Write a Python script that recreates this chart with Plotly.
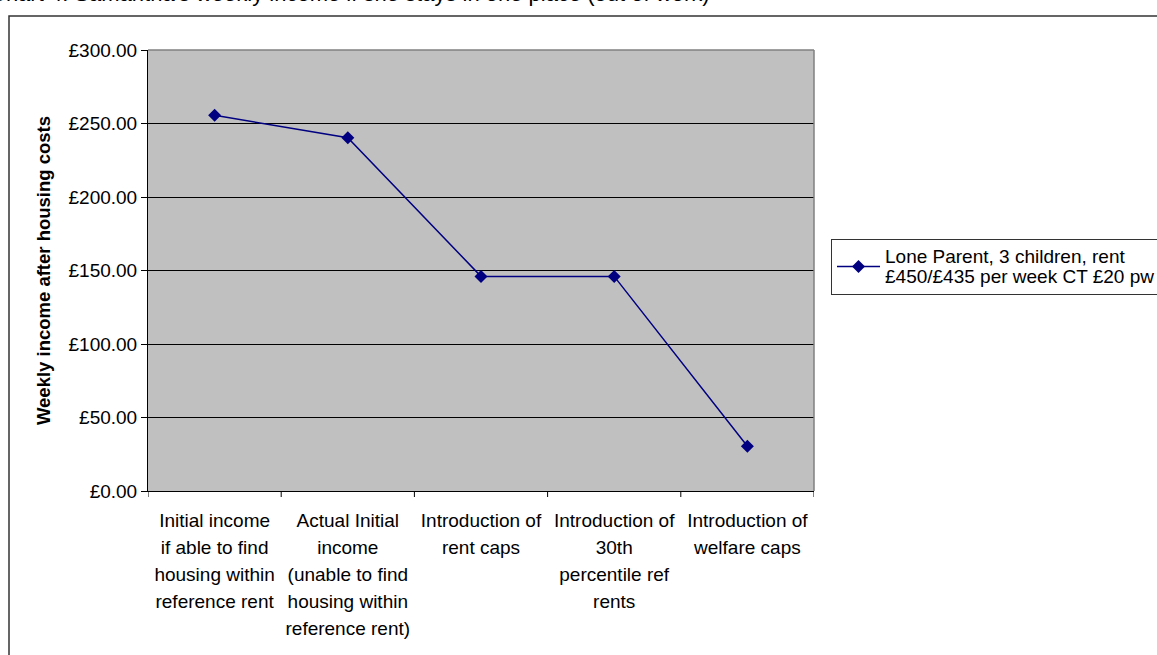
import plotly.graph_objects as go

# Scenario steps along the x axis and weekly income after housing costs (GBP)
category_lines = [
    ["Initial income", "if able to find", "housing within", "reference rent"],
    ["Actual Initial", "income", "(unable to find", "housing within", "reference rent)"],
    ["Introduction of", "rent caps"],
    ["Introduction of", "30th", "percentile ref", "rents"],
    ["Introduction of", "welfare caps"],
]
income = [255.6, 240.3, 146.0, 146.0, 30.5]
series_lines = ["Lone Parent, 3 children, rent", "£450/£435 per week CT £20 pw"]
chart_title = "Chart 4: Samantha's weekly income if she stays in one place (out of work)"
y_ticks = [0, 50, 100, 150, 200, 250, 300]

W, H = 1157, 655
L, R, T, B = 148, 814, 50, 491  # plot area edges in px
pw, ph = R - L, B - T


def px_x(x):
    return (x - L) / pw


def px_y(y):
    return (B - y) / ph


def sized(lines, size):
    # wrap each line so glyph size and line pitch can differ
    return "<br>".join(f"<span style='font-size:{size}px'>{s}</span>" for s in lines)


FONT = "Liberation Sans, Arial, sans-serif"

fig = go.Figure()
fig.add_trace(go.Scatter(
    x=list(range(len(category_lines))),
    y=income,
    mode="lines+markers",
    name=sized(series_lines, 19),
    line=dict(color="#000080", width=1.5),
    marker=dict(symbol="diamond", size=10, color="#000080"),
    showlegend=True,
))

fig.update_layout(
    width=W, height=H,
    margin=dict(l=L, r=W - R, t=T, b=H - B, pad=0, autoexpand=False),
    paper_bgcolor="#FFFFFF",
    plot_bgcolor="#C0C0C0",
    font=dict(family=FONT, color="#000000"),
    xaxis=dict(
        range=[-0.5, len(category_lines) - 0.5],
        tickmode="array",
        tickvals=list(range(len(category_lines))),
        ticktext=[sized(c, 19) for c in category_lines],
        showgrid=False,
        zeroline=False,
        showline=True, linecolor="#000000", linewidth=1,
        ticks="", ticklabelstandoff=10,
        tickfont=dict(family=FONT, size=20.8, color="#000000"),
        automargin=False,
        fixedrange=True,
    ),
    yaxis=dict(
        range=[0, 300],
        tickmode="array",
        tickvals=y_ticks,
        ticktext=[f"£{v:.2f}" for v in y_ticks],
        showgrid=True, gridcolor="#000000", gridwidth=1,
        zeroline=False,
        showline=True, linecolor="#000000", linewidth=1,
        ticks="outside", ticklen=6, tickcolor="#000000",
        tickfont=dict(family=FONT, size=19, color="#000000"),
        automargin=False,
        title=dict(text="<b>Weekly income after housing costs</b>",
                   font=dict(family=FONT, size=18.5, color="#000000"),
                   standoff=13),
    ),
    legend=dict(
        x=px_x(831), y=px_y(239), xanchor="left", yanchor="top",
        bgcolor="#FFFFFF", bordercolor="#333333", borderwidth=1,
        font=dict(family=FONT, size=15.4, color="#000000"),
        itemwidth=43,
    ),
    showlegend=True,
)

# Category boundary tick marks below the x axis
for k in range(len(category_lines) + 1):
    fig.add_shape(type="line", xref="x", yref="paper",
                  x0=k - 0.5, x1=k - 0.5, y0=0, y1=-6 / ph,
                  line=dict(color="#000000", width=1))

# Grey border on the top and right of the plot area
fig.add_shape(type="line", xref="paper", yref="paper", x0=0, x1=1, y0=1, y1=1,
              line=dict(color="#808080", width=1.5))
fig.add_shape(type="line", xref="paper", yref="paper", x0=1, x1=1, y0=0, y1=1,
              line=dict(color="#808080", width=1.5))

# Outer chart frame
fig.add_shape(type="rect", xref="paper", yref="paper",
              x0=px_x(9), x1=px_x(W + 10), y0=px_y(H + 10), y1=px_y(16),
              line=dict(color="#333333", width=1.5), fillcolor="rgba(0,0,0,0)", layer="below")

# Heading above the frame
fig.add_annotation(text=chart_title, xref="paper", yref="paper",
                   x=px_x(-12), y=px_y(8), xanchor="left", yanchor="bottom",
                   showarrow=False,
                   font=dict(family=FONT, size=22, color="#000000"))

fig.write_html("out.html")
